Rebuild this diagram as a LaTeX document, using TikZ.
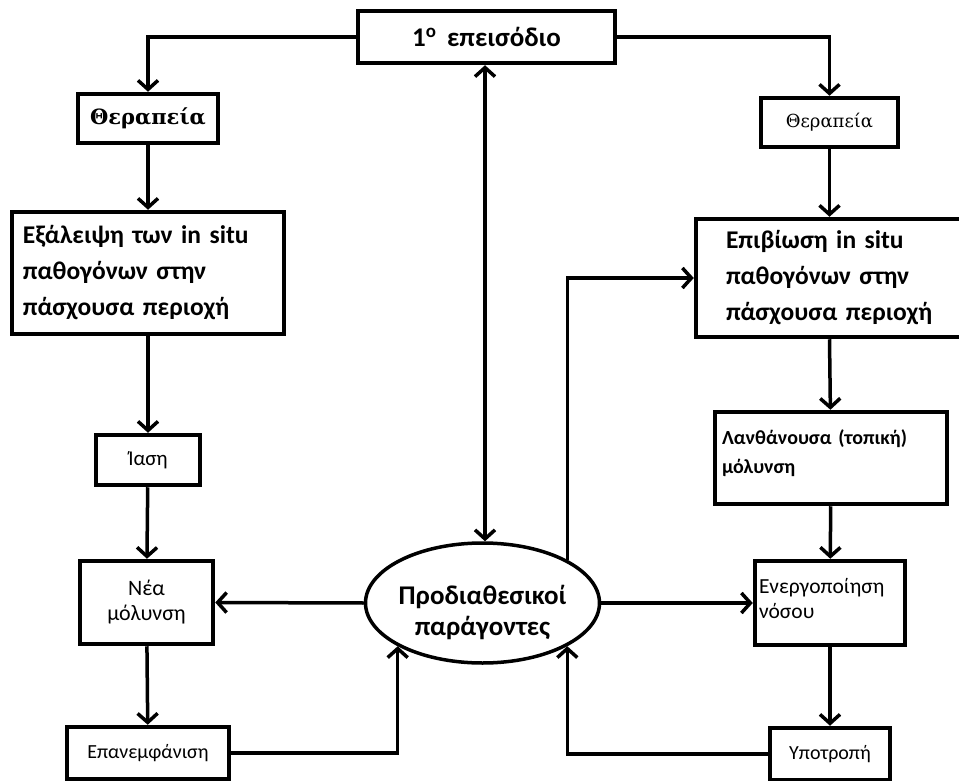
\documentclass[tikz,border=0pt]{standalone}
\usepackage{fontspec}
\setmainfont{Carlito}
\newfontfamily\therfont{DejaVu Serif}
\usetikzlibrary{arrows.meta,shapes.geometric}

\tikzset{
  >={Straight Barb[length=9pt,width=20pt,line width=3.5pt]},
  box/.style={draw, line width=4.5pt, inner sep=0pt, fill=white},
  conn/.style={line width=3.5pt, ->},
}

\begin{document}
\begin{tikzpicture}[x=1pt,y=-1pt]
                    \useasboundingbox (0,0) rectangle (959,781);

                    \node[box, minimum width=257, minimum height=52, font=\bfseries\fontsize{27}{32}\selectfont] (top) at (486.5,37) {1\textsuperscript{o}\, επεισόδιο};
                    \node[box, minimum width=140, minimum height=49, font=\therfont\bfseries\fontsize{21}{25}\selectfont] (therL) at (148,118.5) {Θεραπεία};
                    \node[box, minimum width=137, minimum height=49, font=\therfont\fontsize{18}{21}\selectfont] (therR) at (829.5,122.5) {Θεραπεία};

                    \node[box, minimum width=272, minimum height=122, text width=250, align=left, font=\bfseries\fontsize{25.5}{36}\selectfont] (elim) at (148,273) {Εξάλειψη των in situ\\παθογόνων στην\\πάσχουσα περιοχή};
                    \node[box, minimum width=266, minimum height=118, text width=258, align=left, font=\bfseries\fontsize{25.5}{36}\selectfont] (surv) at (829,278) {\hspace*{26pt}Επιβίωση in situ\\\hspace*{26pt}παθογόνων στην\\\hspace*{26pt}πάσχουσα περιοχή};

                    \node[box, minimum width=104, minimum height=50, font=\fontsize{21}{25}\selectfont] (iasi) at (148,460) {Ίαση};
                    \node[box, minimum width=232, minimum height=92, text width=218, align=left, font=\bfseries\fontsize{20}{29}\selectfont] (lanth) at (831,458) {Λανθάνουσα (τοπική)\\μόλυνση\vspace{10pt}};

                    \node[box, minimum width=133, minimum height=83, align=center, font=\fontsize{22}{25}\selectfont] (nea) at (146.5,602.5) {Νέα\\μόλυνση};
                    \node[box, ellipse, line width=3.5pt, minimum width=234, minimum height=120,
                          label={[yshift=-9, align=center, font=\bfseries\fontsize{27}{31}\selectfont]center:Προδιαθεσικοί\\παράγοντες}] (ell) at (482.5,603) {};
                    \node[box, minimum width=150, minimum height=84, text width=142, align=left, font=\fontsize{21.5}{25}\selectfont] (energ) at (830,603) {Ενεργοποίηση\\νόσου\vspace{8pt}};

                    \node[box, minimum width=162, minimum height=52, font=\fontsize{20}{24}\selectfont] (epan) at (148,753) {Επανεμφάνιση};
                    \node[box, minimum width=120, minimum height=52, font=\fontsize{20}{24}\selectfont] (ypot) at (830,754) {Υποτροπή};

                    \draw[conn] (top.west) -| (therL.north);
                    \draw[conn] (top.east) -| (therR.north);
                    \draw[conn, <->] (ell.north -| 485,0) -- (top.south -| 485,0);

                    \draw[conn] (therL) -- (elim);
                    \draw[conn] (elim) -- (iasi);
                    \draw[conn] (iasi) -- (nea);
                    \draw[conn] (nea) -- (epan);

                    \draw[conn] (therR) -- (therR |- surv.north);
                    \draw[conn] (surv.south -| therR) -- (lanth);
                    \draw[conn] (lanth) -- (energ);
                    \draw[conn] (energ) -- (ypot);

                    \draw[conn] (ell.west) -- (nea.east);
                    \draw[conn] (ell.east) -- (energ.west);
                    \draw[conn] (ell.27) |- (surv.west);
                    \draw[conn] (epan.east) -| (ell.207);
                    \draw[conn] (ypot.west) -| (ell.333);
                \end{tikzpicture}
\end{document}
